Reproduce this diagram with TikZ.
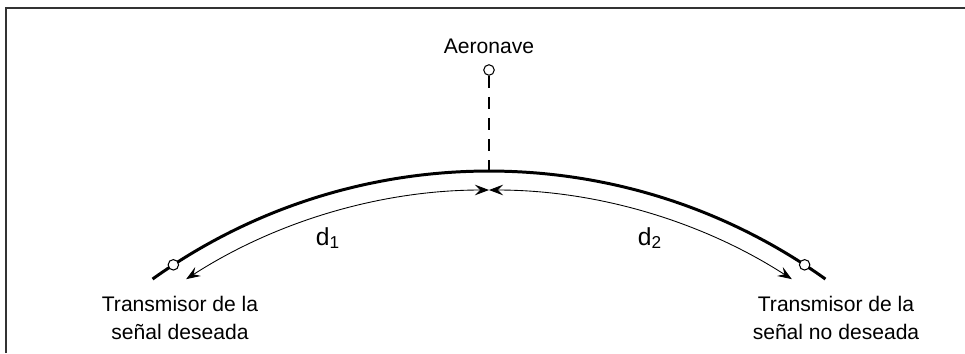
\documentclass[tikz,border=0pt]{standalone}
\usepackage{fontspec}
\setmainfont{Liberation Sans}
\usetikzlibrary{positioning, arrows.meta, calc}
\tikzset{>={Stealth[length=8pt,width=6pt,inset=3pt]}}
\tikzset{dot/.style={draw, circle, fill=white, inner sep=0pt, minimum size=0.21cm, line width=0.6pt}}

\begin{document}
\begin{tikzpicture}[every node/.style={font=\fontsize{12}{15.5}\selectfont}]
\useasboundingbox (0,0) rectangle (19.3,7.06);
\draw[line width=1pt, black!80] (0.12,0) -- (0.12,6.9) -- (19.3,6.9);
% earth surface
\coordinate (earth) at (9.78,-7.92);
\coordinate (top) at ($(earth)+(90:11.56)$);
\draw[line width=1.7pt] ($(earth)+(125.6:11.56)$) arc[start angle=125.6, end angle=54.4, radius=11.56];
% distances
\coordinate (mid) at ($(earth)+(90:11.18)$);
\draw[<->, line width=0.5pt] ($(earth)+(122.8:11.18)$) arc[start angle=122.8, end angle=90, radius=11.18];
\draw[<->, line width=0.5pt] (mid) arc[start angle=90, end angle=57.2, radius=11.18];
\node[font=\fontsize{14}{16}\selectfont] (dA) at (6.56,2.30) {d\textsubscript{1}};
\node[font=\fontsize{14}{16}\selectfont] (dB) at (13.0,2.30) {d\textsubscript{2}};
% aircraft
\node[dot] (plane) at (9.78,5.66) {};
\node[above=2.5pt of plane] (aero) {Aeronave};
\draw[line width=1.4pt, dash pattern=on 7pt off 5pt] (plane) -- (top);
% transmitters
\node[dot] (txA) at ($(earth)+(123.1:11.56)$) {};
\node[dot] (txB) at ($(earth)+(56.9:11.56)$) {};
\node[align=center] (labA) at (3.6,0.70) {Transmisor de la\\señal deseada};
\node[align=center] (labB) at (16.72,0.70) {Transmisor de la\\señal no deseada};
\end{tikzpicture}
\end{document}
